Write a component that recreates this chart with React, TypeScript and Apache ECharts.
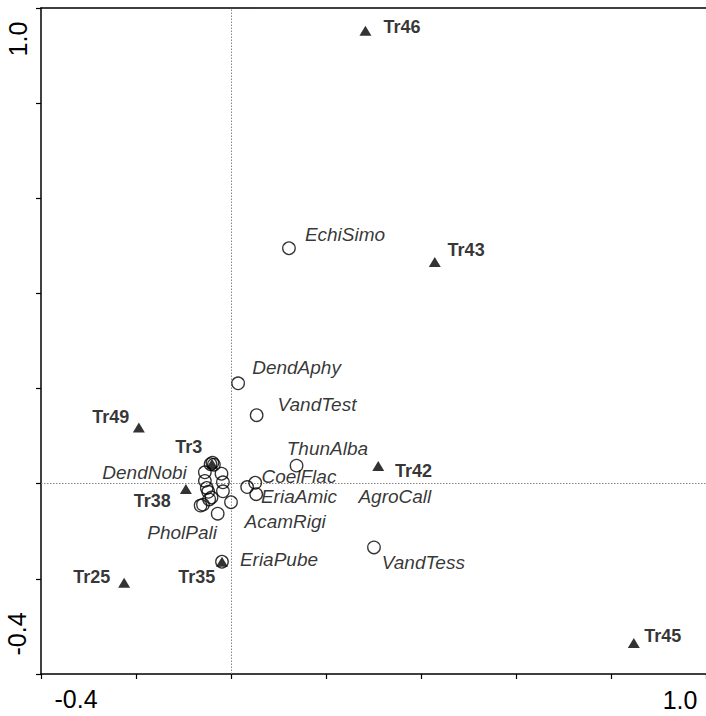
import React, { useEffect, useRef } from "react";
import * as echarts from "echarts";

// Species scores (open circles), data units
const speciesPoints: [number, number][] = [
  [0.122, 0.495], // EchiSimo
  [0.015, 0.211], // DendAphy
  [0.054, 0.144], // VandTest
  [0.138, 0.038], // ThunAlba
  [0.051, 0.002], // CoelFlac
  [0.053, -0.022], // EriaAmic
  [0.034, -0.007], // AcamRigi
  [-0.019, -0.164], // EriaPube
  [0.301, -0.134], // VandTess
  [-0.043, 0.041],
  [-0.039, 0.044],
  [-0.036, 0.04],
  [-0.055, 0.024],
  [-0.02, 0.021],
  [-0.017, 0.003],
  [-0.055, 0.006],
  [-0.051, -0.009],
  [-0.048, -0.017],
  [-0.017, -0.016],
  [-0.041, -0.029],
  [-0.046, -0.033],
  [-0.059, -0.044],
  [-0.064, -0.046],
  [0.0, -0.039],
  [-0.028, -0.063],
];

// Species label anchors
const speciesLabelNames = [
  "EchiSimo", "DendAphy", "VandTest", "ThunAlba", "CoelFlac", "EriaAmic",
  "AgroCall", "AcamRigi", "EriaPube", "VandTess", "DendNobi", "PholPali",
];
const speciesLabelX = [0.24, 0.138, 0.181, 0.203, 0.143, 0.143, 0.345, 0.114, 0.101, 0.405, -0.182, -0.103];
const speciesLabelY = [0.523, 0.245, 0.167, 0.073, 0.015, -0.027, -0.027, -0.08, -0.159, -0.166, 0.024, -0.102];

// Site scores (filled triangles)
const siteNames = ["Tr46", "Tr43", "Tr42", "Tr45", "Tr25", "Tr35", "Tr49", "Tr38", "Tr3"];
const siteX = [0.283, 0.429, 0.31, 0.848, -0.225, -0.019, -0.194, -0.095, -0.04];
const siteY = [0.952, 0.466, 0.037, -0.335, -0.208, -0.164, 0.118, -0.011, 0.042];
const siteLabelX = [0.36, 0.495, 0.384, 0.909, -0.293, -0.072, -0.253, -0.166, -0.089];
const siteLabelY = [0.96, 0.491, 0.027, -0.32, -0.197, -0.197, 0.14, -0.036, 0.077];

// Axis
const axisMin = -0.4;
const axisMax = 1.0;
const axisStep = 0.2;
const xTickLabels = ["-0.4", "1.0"];
const yTickLabels = ["-0.4", "1.0"];

const FONT = "'Liberation Sans', Arial, Helvetica, sans-serif";

export default function App() {
  const ref = useRef<HTMLDivElement>(null);

  useEffect(() => {
    if (!ref.current) return;
    const chart = echarts.init(ref.current, undefined, { renderer: "svg" });

    const axisCommon = {
      type: "value" as const,
      min: axisMin,
      max: axisMax,
      interval: axisStep,
      splitLine: { show: false },
      axisLabel: { show: false },
    };

    chart.setOption({
      animation: false,
      grid: { left: 41, right: 0, top: 8, bottom: 42 },
      xAxis: [
        {
          ...axisCommon,
          position: "bottom",
          axisLine: { show: true, onZero: false, lineStyle: { color: "#000", width: 1.5 } },
          axisTick: { show: true, length: 5, lineStyle: { color: "#000", width: 1.2 } },
        },
        {
          ...axisCommon,
          position: "top",
          axisLine: { show: true, onZero: false, lineStyle: { color: "#000", width: 1.5 } },
          axisTick: { show: false },
        },
      ],
      yAxis: {
        ...axisCommon,
        axisLine: { show: true, onZero: false, lineStyle: { color: "#000", width: 1.5 } },
        axisTick: { show: true, length: 5, lineStyle: { color: "#000", width: 1.2 } },
      },
      graphic: [
        {
          type: "text",
          x: 76,
          y: 699,
          style: { text: xTickLabels[0], font: `25px ${FONT}`, fill: "#000", align: "center", verticalAlign: "middle" },
        },
        {
          type: "text",
          x: 680,
          y: 700,
          style: { text: xTickLabels[1], font: `25px ${FONT}`, fill: "#000", align: "center", verticalAlign: "middle" },
        },
        {
          type: "text",
          x: 17,
          y: 634,
          rotation: Math.PI / 2,
          style: { text: yTickLabels[0], font: `25px ${FONT}`, fill: "#000", align: "center", verticalAlign: "middle" },
        },
        {
          type: "text",
          x: 18,
          y: 39,
          rotation: Math.PI / 2,
          style: { text: yTickLabels[1], font: `25px ${FONT}`, fill: "#000", align: "center", verticalAlign: "middle" },
        },
      ],
      series: [
        {
          type: "scatter",
          name: "species",
          data: speciesPoints,
          symbol: "circle",
          symbolSize: 12.5,
          itemStyle: { color: "rgba(0,0,0,0)", borderColor: "#000", borderWidth: 1.3 },
          silent: true,
          z: 3,
          markLine: {
            silent: true,
            symbol: ["none", "none"],
            label: { show: false },
            lineStyle: { type: [1.5, 1.5], color: "#888", width: 1 },
            data: [{ xAxis: 0 }, { yAxis: 0 }],
            z: 1,
          },
        },
        {
          type: "scatter",
          name: "sites",
          data: siteX.map((x, i) => [x, siteY[i]]),
          symbol: "triangle",
          symbolSize: [12, 10],
          itemStyle: { color: "#000" },
          silent: true,
          z: 4,
        },
        {
          type: "scatter",
          name: "speciesLabels",
          data: speciesLabelNames.map((n, i) => ({ name: n, value: [speciesLabelX[i], speciesLabelY[i]] })),
          symbolSize: 1,
          itemStyle: { color: "rgba(0,0,0,0)" },
          silent: true,
          z: 5,
          label: {
            show: true,
            position: "inside",
            formatter: (p: any) => p.name,
            fontFamily: FONT,
            fontStyle: "italic",
            fontSize: 19,
            color: "#000",
          },
        },
        {
          type: "scatter",
          name: "siteLabels",
          data: siteNames.map((n, i) => ({ name: n, value: [siteLabelX[i], siteLabelY[i]] })),
          symbolSize: 1,
          itemStyle: { color: "rgba(0,0,0,0)" },
          silent: true,
          z: 5,
          label: {
            show: true,
            position: "inside",
            formatter: (p: any) => p.name,
            fontFamily: FONT,
            fontWeight: "bold",
            fontSize: 18,
            color: "#000",
          },
        },
      ],
    });

    return () => chart.dispose();
  }, []);

  return (
    <div
      ref={ref}
      style={{ position: "absolute", left: 0, top: 0, width: 706, height: 716, background: "#fff" }}
    />
  );
}
